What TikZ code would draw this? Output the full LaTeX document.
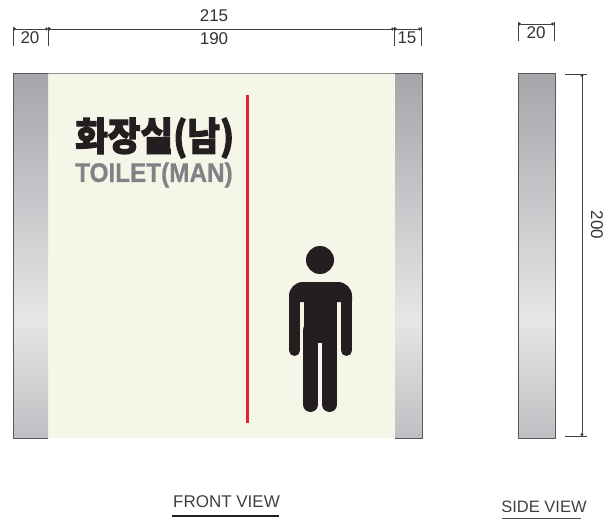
\documentclass[tikz,border=0pt]{standalone}
\usepackage{fontspec}
\usepackage{xcolor}
\usetikzlibrary{arrows.meta}
\setmainfont{Liberation Sans}
\newfontfamily\korfont{Noto Sans CJK KR}[BoldFont={Noto Sans CJK KR Black}, BoldFeatures={FakeStretch=0.91, FakeBold=2.5}]
\newfontfamily\engfont{Liberation Sans}[BoldFeatures={FakeStretch=0.9, FakeBold=0.7}]
\definecolor{panelcream}{HTML}{F5F6E8}
\definecolor{signred}{HTML}{E3202C}
\definecolor{figblack}{HTML}{231F20}
\definecolor{signgray}{HTML}{808285}
\definecolor{steeltop}{HTML}{A5A6AA}
\definecolor{steelmid}{HTML}{E6E6E8}
\definecolor{steelbot}{HTML}{BEBFC2}
\tikzset{
  dimline/.style={draw=black!75, line width=0.7pt, {Circle[length=3pt]}-{Circle[length=3pt]}},
  dimtick/.style={draw=black!75, line width=0.7pt},
  dimlabel/.style={text=black!80, font=\fontsize{17}{17}\selectfont, inner sep=0pt},
  viewlabel/.style={text=black!75, inner sep=0pt},
  steelup/.style={top color=steeltop, bottom color=steelmid},
  steeldown/.style={top color=steelmid, bottom color=steelbot},
  steeledge/.style={draw=black!65, line width=1pt}
}
\begin{document}
\begin{tikzpicture}[x=1pt, y=-1pt]
    \useasboundingbox (0,0) rectangle (606,519);

    % Front view
    \fill[panelcream] (48,74) rectangle (395,438);
    \draw[black!45, line width=0.6pt] (48,73.5) -- (395,73.5);
    \shade[steelup] (13,74) rectangle (48,320);
    \shade[steeldown] (13,320) rectangle (48,438);
    \shade[steelup] (395,74) rectangle (422,320);
    \shade[steeldown] (395,320) rectangle (422,438);
    \draw[steeledge] (48,74) -- (13,74) -- (13,438) -- (48,438);
    \draw[steeledge] (395,74) -- (422,74) -- (422,438) -- (395,438);

    % Red line
    \draw[signred, line width=3pt] (247,95) -- (247,423);

    % Sign text
    \node[anchor=west, inner sep=0pt, text=figblack, font=\fontsize{39}{39}\selectfont\korfont\bfseries] (titlekr) at (75,138) {화장실(남)};
    \node[anchor=west, inner sep=0pt, text=signgray, font=\fontsize{27}{27}\selectfont\engfont\bfseries] (titleen) at (75,175) {TOILET(MAN)};

    % Man
    \fill[figblack] (320,260) circle (14);
    \fill[figblack] (289,302) [rounded corners=14pt] -- (289,282) -- (352,282) [sharp corners] -- (352,302) -- cycle;
    \fill[figblack] (303.5,295) rectangle (336.5,343);
    \draw[figblack, line width=11pt, line cap=round] (294.5,300) -- (294.5,350.5);
    \draw[figblack, line width=11pt, line cap=round] (346.5,300) -- (346.5,350.5);
    \draw[figblack, line width=15pt, line cap=round] (310.5,330) -- (310.5,404.5);
    \draw[figblack, line width=15pt, line cap=round] (329.5,330) -- (329.5,404.5);

    % Side view
    \shade[steelup] (518.5,74) rectangle (555,320);
    \shade[steeldown] (518.5,320) rectangle (555,438);
    \draw[steeledge] (518.5,74) rectangle (555,438);

    % Dimensions front
    \coordinate (fa) at (13,29);
    \coordinate (fb) at (48,29);
    \coordinate (fc) at (394,29);
    \coordinate (fd) at (421,29);
    \draw[dimline] (fa) -- (fb);
    \draw[dimline] (fb) -- (fc);
    \draw[dimline] (fc) -- (fd);
    \foreach \p in {fa,fb,fc,fd}
        \draw[dimtick] (\p) ++(0,-2) -- ++(0,19);
    \node[dimlabel] (dimtotal) at (214,16) {215};
    \node[dimlabel] (dimmain) at (214,39) {190};
    \node[dimlabel] (dimleft) at (30,38) {20};
    \node[dimlabel] (dimright) at (407,38) {15};

    % Dimensions side
    \coordinate (sa) at (518,24);
    \coordinate (sb) at (554,24);
    \draw[dimline] (sa) -- (sb);
    \foreach \p in {sa,sb}
        \draw[dimtick] (\p) ++(0,-2) -- ++(0,19);
    \node[dimlabel] (dimdepth) at (536,33) {20};

    \coordinate (sc) at (582,74);
    \coordinate (sd) at (582,436);
    \draw[dimline] (sc) -- (sd);
    \draw[dimtick] (565,74) -- (587,74);
    \draw[dimtick] (565,436) -- (587,436);
    \node[dimlabel, rotate=-90] (dimheight) at (597,225) {200};

    % View labels
    \node[viewlabel, font=\fontsize{17}{17}\selectfont] (frontlabel) at (226.5,502) {FRONT VIEW};
    \draw[figblack, line width=2.5pt] (172,516) -- (279,516);
    \node[viewlabel, font=\fontsize{16.5}{17}\selectfont] (sidelabel) at (544,506.5) {SIDE VIEW};
    \draw[black!70, line width=0.8pt] (502,518.5) -- (581,518.5);
\end{tikzpicture}
\end{document}
